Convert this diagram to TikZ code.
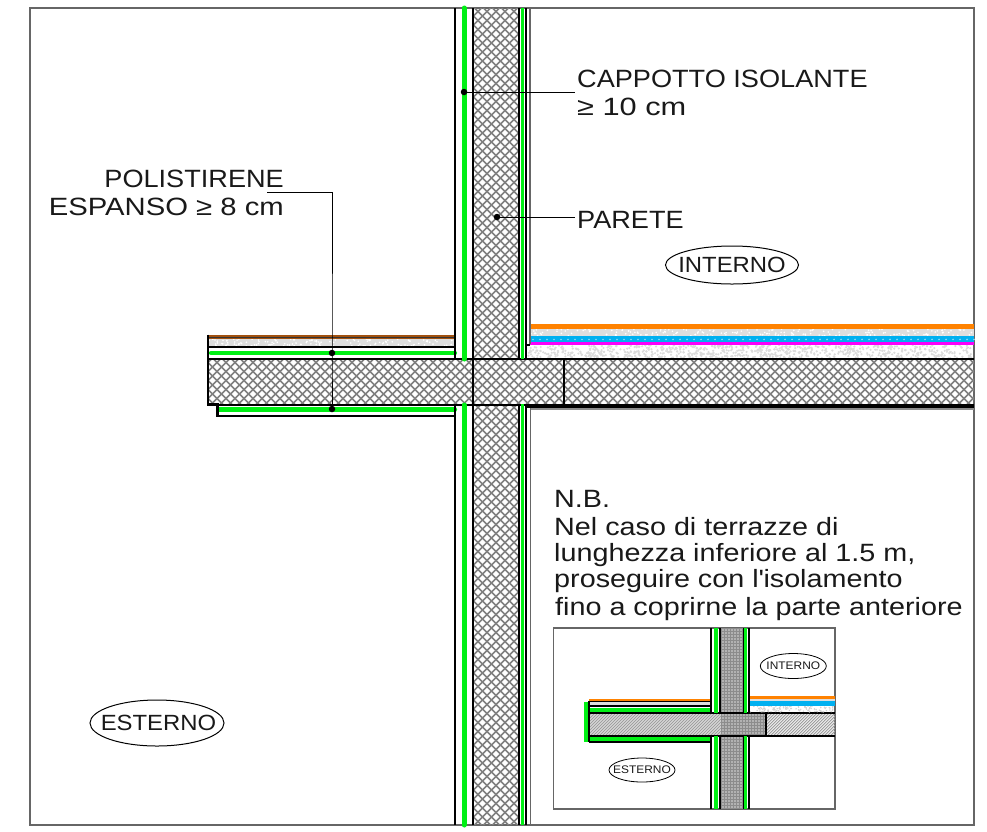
\documentclass[tikz,border=0pt]{standalone}
\usepackage{fontspec}
\setmainfont{Liberation Sans}[FakeStretch=1.085]
\newfontfamily\widea{Liberation Sans}[FakeStretch=1.15]
\newfontfamily\wideb{Liberation Sans}[FakeStretch=1.17]
\newfontfamily\widec{Liberation Sans}[FakeStretch=1.23]
\usetikzlibrary{shapes.geometric}
\definecolor{grn}{RGB}{0,240,20}
\definecolor{org}{RGB}{255,130,0}
\definecolor{brn}{RGB}{160,80,15}
\definecolor{cyn}{RGB}{0,176,240}
\definecolor{mag}{RGB}{250,0,250}
\definecolor{spk}{RGB}{222,222,222}
\newcommand{\speck}[7]{%
 \foreach \k in {1,...,#5}{
  \pgfmathsetmacro{\xa}{#1+rnd*(#3-#1)}
  \pgfmathsetmacro{\ya}{#2+rnd*(#4-#2)}
  \fill[#6] (\xa,\ya) circle[radius=#7pt];
 }}
\newcommand{\hatchdiag}[4]{%
 \begin{scope}
 \clip (#1,#2) rectangle (#3,#4);
 \pgfmathsetmacro{\hh}{#4-#2}
 \pgfmathtruncatemacro{\na}{int(#1-\hh)}
 \pgfmathtruncatemacro{\nb}{int(#1-\hh+3)}
 \pgfmathtruncatemacro{\nc}{int(#3)}
 \foreach \i in {\na,\nb,...,\nc}{
  \draw[line width=1.1pt,gray!75] (\i+\hh,#2) -- ++(-\hh,\hh);
 }
 \end{scope}}
\newcommand{\dotgrid}[4]{%
 \fill[gray!90] (#1,#2) rectangle (#3,#4);
 \pgfmathtruncatemacro{\xs}{#1+2}\pgfmathtruncatemacro{\xt}{#1+5}\pgfmathtruncatemacro{\xe}{#3}
 \pgfmathtruncatemacro{\ys}{#2+2}\pgfmathtruncatemacro{\yt}{#2+5}\pgfmathtruncatemacro{\ye}{#4}
 \foreach \a in {\xs,\xt,...,\xe}{\foreach \b in {\ys,\yt,...,\ye}{
  \fill[gray!30] (\a,\b) circle[radius=.8pt];}}}
\tikzset{
 hatchline/.style={line width=1.55pt,color=black!50},
 thick black/.style={line width=2.5pt,black},
 mid black/.style={line width=2pt,black},
 frameline/.style={line width=1.5pt,black!60},
 grnline/.style={line width=5pt,grn,line cap=round},
 grnthin/.style={line width=3.6pt,grn},
 leader/.style={line width=1pt,black},
 leaddot/.style={circle,fill=black,inner sep=0pt,minimum size=6.5pt},
 lab/.style={inner sep=0pt,text=black!90,font=\fontsize{25}{28}\selectfont},
 tag/.style={inner sep=0pt,text=black!90,font=\fontsize{22}{24}\selectfont},
 smalltag/.style={inner sep=0pt,text=black!90,font=\fontsize{11}{12}\selectfont},
 ring/.style={draw=black,line width=1pt},
}
\begin{document}
\begin{tikzpicture}[x=1pt,y=-1pt]
\useasboundingbox (0,0) rectangle (987,831);
\fill[white] (0,0) rectangle (987,831);
% outer frame
\draw[frameline] (30,8) rectangle (974,825);
% hatched structure
\begin{scope}
\clip (473,8) rectangle (519,825) (208,359) rectangle (974,404);
\foreach \k in {-93,...,110}{\draw[hatchline] (7.5+9*\k,0) -- ++(831,831);}
\foreach \k in {0,...,202}{\draw[hatchline] (3.5+9*\k,0) -- ++(-831,831);}
\end{scope}
% balcony upper layers
\fill[spk] (208,339) rectangle (455,346);
\pgfmathsetseed{7}
\speck{208}{339}{455}{346}{130}{white}{.9}
\fill[brn] (208,334.5) rectangle (455,339);
\draw[line width=.8pt,black!80] (208,337.8) -- (455,337.8);
\draw[thick black] (208,347) -- (455,347);
\draw[mid black] (208,358.5) -- (473,358.5);
\draw[line width=4.2pt,grn,line cap=round] (211,353) -- (455,353);
\draw[line width=4.2pt,grn,line cap=round] (219,409.5) -- (455,409.5);
% balcony outline
\draw[thick black] (208,334.5) -- (208,404.5) -- (217.5,404.5) -- (217.5,416) -- (455,416);
\draw[mid black] (208,404.5) -- (473,404.5);
% right floor build-up
\speck{528}{345}{972}{358}{800}{black!14}{1.2}
\fill[spk] (529.5,329) rectangle (974,337);
\speck{530}{329}{974}{337}{230}{white}{.9}
\fill[cyn] (529.5,336.4) rectangle (974,342.5);
\foreach \k in {0,...,63}{\fill[white!55!cyn] (533+7*\k,339.4) circle[radius=.9pt];}
\fill[mag] (529.5,342.3) rectangle (974,345.4);
\fill[org] (529.5,324) rectangle (974,329);
% slab lines on the right
\draw[mid black] (473,359) -- (974,359);
\draw[mid black] (564,359) -- (564,404.5);
\draw[mid black] (473,404.5) -- (974,404.5);
\draw[mid black] (527,407) -- (974,407);
\draw[line width=1.2pt,black!45] (530,409) -- (974,409);
% wall left
\draw[thick black] (455,8) -- (455,359);
\draw[thick black] (455,404) -- (455,825);
\draw[mid black] (473,8) -- (473,825);
\draw[grnline] (464,8) -- (464,359);
\draw[grnline] (464,405) -- (464,825);
% wall right
\draw[mid black] (519,8) -- (519,359);
\draw[mid black] (519,404) -- (519,825);
\draw[grnthin] (522.6,8) -- (522.6,359);
\draw[grnthin] (522.6,404) -- (522.6,825);
\draw[mid black] (526,8) -- (526,359);
\draw[mid black] (526,404) -- (526,825);
\draw[frameline] (529.8,8) -- (529.8,344);
\draw[mid black] (526,344.5) -- (530,344.5);
\draw[frameline] (530.3,408) -- (530.3,825);
% labels
\node[lab,anchor=base west] (cap) at (577,87) {CAPPOTTO ISOLANTE};
\node[lab,anchor=base west] (cap2) at (577,115) {\widec ≥ 10 cm};
\node[lab,anchor=base west] (par) at (577,228) {PARETE};
\node[lab,anchor=base east] (pol) at (284,187) {POLISTIRENE};
\node[lab,anchor=base east] (esp) at (284,215) {\wideb ESPANSO ≥ 8 cm};
\node[lab,anchor=base west] (n1) at (554,507) {\widea N.B.};
\node[lab,anchor=base west] (n2) at (554,535) {\widea Nel caso di terrazze di};
\node[lab,anchor=base west] (n3) at (554,561) {\widea lunghezza inferiore al 1.5 m,};
\node[lab,anchor=base west] (n4) at (554,587) {\widea proseguire con l\textquotesingle isolamento};
\node[lab,anchor=base west] (n5) at (555,615) {\widea fino a coprirne la parte anteriore};
\node[tag] (int) at (732,265) {INTERNO};
\draw[ring] (int.center) ellipse[x radius=66.5,y radius=19];
\node[tag] (est) at (158.5,723) {ESTERNO};
\draw[ring] (157,723) ellipse[x radius=67,y radius=23];
% leaders
\node[leaddot] (d1) at (464,92) {};
\node[leaddot] (d2) at (497,217) {};
\node[leaddot] (d3) at (332,353) {};
\node[leaddot] (d4) at (332,409) {};
\coordinate (e1) at (575,92);
\coordinate (e2) at (575,217);
\coordinate (e3) at (332,192);
\coordinate (e4) at (267,192);
\draw[leader] (d1.center) -- (e1);
\draw[leader] (d2.center) -- (e2);
\draw[leader] (e4) -- (e3) -- (d3.center) -- (d4.center);
% inset
\draw[frameline] (553.5,628) rectangle (835,809);
\dotgrid{721}{628}{743}{809}
\dotgrid{721}{713}{765}{736}
\hatchdiag{589}{713}{721}{736}
\hatchdiag{766}{713}{835}{736}
\fill[spk] (589,702) rectangle (711,706);
\fill[org] (589,699) rectangle (711,701);
\draw[line width=1.6pt] (589,701.5) -- (711,701.5);
\draw[line width=1.6pt] (589,706) -- (711,706);
\draw[line width=4pt,grn] (589,710) -- (711,710);
\draw[line width=4pt,grn] (589,739) -- (711,739);
\draw[line width=2pt] (589,713) -- (835,713);
\draw[line width=2pt] (589,736) -- (835,736);
\draw[line width=2pt] (589,742) -- (711,742);
\draw[line width=2pt] (589,701) -- (589,742);
\draw[line width=4.5pt,grn] (586,702) -- (586,742);
\draw[line width=1.8pt] (766,713) -- (766,736);
\speck{750}{706}{834}{712}{110}{black!18}{.8}
\fill[spk] (749,699) rectangle (835,701);
\fill[cyn] (749,700.5) rectangle (835,705.5);
\fill[org] (749,695.5) rectangle (835,699);
\foreach \y/\z in {628/713,736/809}{
 \draw[line width=2.2pt] (711,\y) -- (711,\z);
 \draw[line width=1.6pt] (719.7,\y) -- (719.7,\z);
 \draw[line width=1.6pt] (743.3,\y) -- (743.3,\z);
 \draw[line width=2.2pt] (749,\y) -- (749,\z);
 \draw[line width=3.3pt,grn] (716,\y) -- (716,\z);
 \draw[line width=3.5pt,grn] (745.7,\y) -- (745.7,\z);
}
\node[smalltag] (int2) at (793.3,666) {INTERNO};
\draw[ring,line width=.8pt] (int2.center) ellipse[x radius=33,y radius=12.5];
\node[smalltag] (est2) at (642,770) {ESTERNO};
\draw[ring,line width=.8pt] (est2.center) ellipse[x radius=33,y radius=12];
\end{tikzpicture}
\end{document}
